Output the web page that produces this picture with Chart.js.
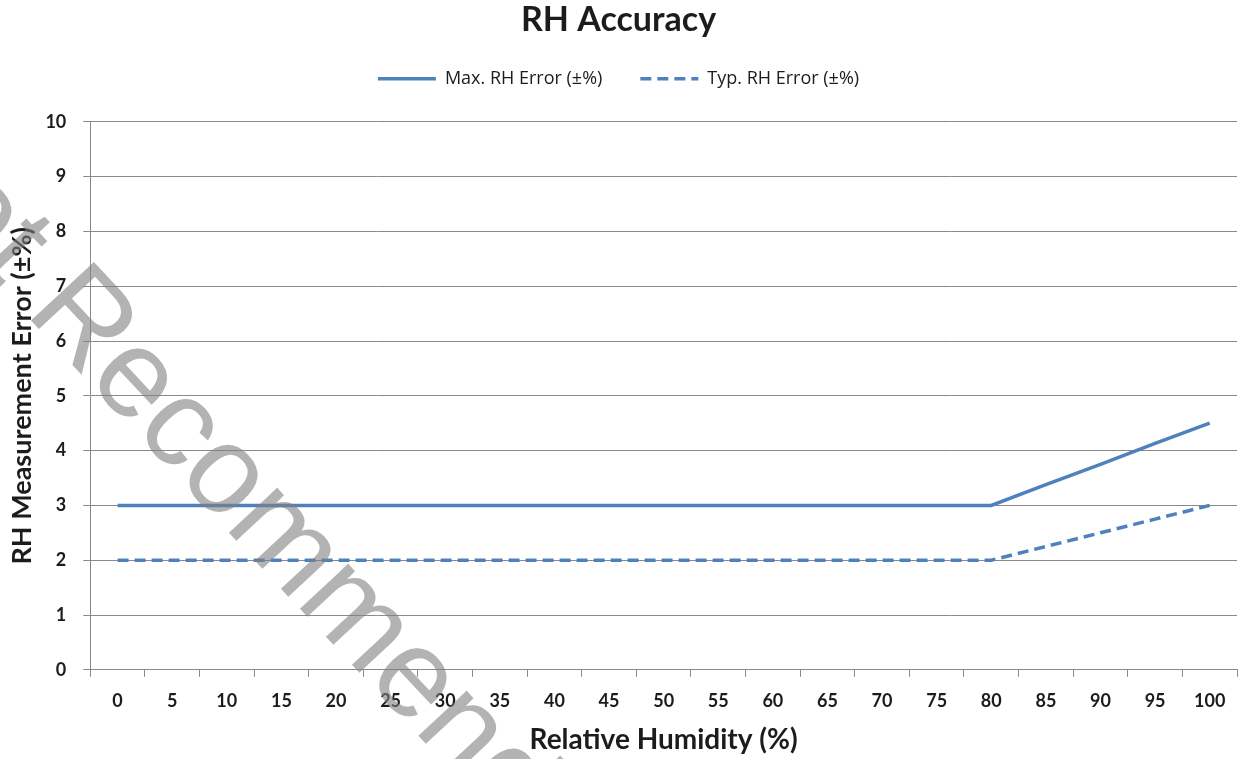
<!DOCTYPE html>
<html>
<head>
<meta charset="utf-8">
<script src="https://cdn.jsdelivr.net/npm/chart.js@4.4.1/dist/chart.umd.min.js"></script>
<style>
  html, body { margin: 0; padding: 0; background: #fff; }
  #wrap { width: 1247px; height: 759px; }
</style>
</head>
<body>
<div id="wrap"><canvas id="rhChart" width="1247" height="759"></canvas></div>
<script>
// Relative humidity categories (x axis tick labels)
const humidity = ['0', '5', '10', '15', '20', '25', '30', '35', '40', '45', '50',
                  '55', '60', '65', '70', '75', '80', '85', '90', '95', '100'];

// Error values
const maxError = [3, 3, 3, 3, 3, 3, 3, 3, 3, 3, 3, 3, 3, 3, 3, 3, 3, 3.38, 3.75, 4.13, 4.5];
const typError = [2, 2, 2, 2, 2, 2, 2, 2, 2, 2, 2, 2, 2, 2, 2, 2, 2, 2.25, 2.5, 2.75, 3];

const yTicks = [0, 1, 2, 3, 4, 5, 6, 7, 8, 9, 10];

const lineBlue = '#4f81bd';
const gridGray = '#8a8a8a';
const textDark = '#1c1c1c';
const FONT = 'Lato, "Open Sans", sans-serif';

// watermark drawn over the plot, like the stamped original
const watermark = {
    id: 'watermark',
    afterDraw(chart) {
        const ctx = chart.ctx;
        ctx.save();
        ctx.font = '125px "Liberation Sans", Arial, sans-serif';
        ctx.fillStyle = 'rgba(128, 128, 128, 0.6)';
        ctx.textBaseline = 'alphabetic';
        const lead = ctx.measureText('Not ').width;
        ctx.translate(24, 313);
        ctx.rotate(47 * Math.PI / 180);
        ctx.fillText('Not Recommended', -lead, 0);
        ctx.restore();
    }
};

// extra room between the legend row and the plot
const legendGap = {
    id: 'legendGap',
    beforeInit(chart) {
        if (!chart.legend) return;
        const fit = chart.legend.fit;
        chart.legend.fit = function () {
            fit.call(this);
            this.height += 24;
        };
    }
};

const ctx = document.getElementById('rhChart').getContext('2d');

new Chart(ctx, {
    type: 'line',
    data: {
        labels: humidity,
        datasets: [{
            label: 'Max. RH Error (±%)',
            data: maxError,
            borderColor: lineBlue,
            backgroundColor: lineBlue,
            borderWidth: 3.5,
            pointRadius: 0,
            tension: 0
        }, {
            label: 'Typ. RH Error (±%)',
            data: typError,
            borderColor: lineBlue,
            backgroundColor: lineBlue,
            borderWidth: 3.5,
            borderDash: [11, 6],
            pointRadius: 0,
            tension: 0
        }]
    },
    options: {
        responsive: false,
        animation: false,
        layout: { padding: { left: 0, right: 10, top: 0, bottom: 2 } },
        plugins: {
            title: {
                display: true,
                text: 'RH Accuracy',
                color: textDark,
                font: { family: FONT, size: 34, weight: 'bold' },
                padding: { top: 0, bottom: -9 }
            },
            legend: {
                display: true,
                position: 'top',
                labels: {
                    usePointStyle: true,
                    pointStyle: 'line',
                    pointStyleWidth: 58,
                    boxWidth: 58,
                    padding: 38,
                    color: textDark,
                    font: { family: '"Open Sans", sans-serif', size: 18 },
                    generateLabels(chart) {
                        const items = Chart.defaults.plugins.legend.labels.generateLabels(chart);
                        items.forEach((item, i) => {
                            item.lineDash = chart.data.datasets[i].borderDash || [];
                            item.lineWidth = 3.5;
                            item.strokeStyle = lineBlue;
                            item.fillStyle = lineBlue;
                            item.pointStyle = 'line';
                        });
                        return items;
                    }
                }
            },
            tooltip: { enabled: false }
        },
        scales: {
            x: {
                offset: true,
                border: { color: gridGray, width: 1 },
                grid: { drawOnChartArea: false, drawTicks: true, tickLength: 7, color: gridGray, offset: true },
                ticks: {
                    color: textDark,
                    padding: 14,
                    maxRotation: 0,
                    autoSkip: false,
                    font: { family: FONT, size: 18, weight: 'bold' }
                },
                title: {
                    display: true,
                    text: 'Relative Humidity (%)',
                    color: textDark,
                    font: { family: FONT, size: 28, weight: 'bold' },
                    padding: { top: -3, bottom: 0 }
                }
            },
            y: {
                min: yTicks[0],
                max: yTicks[yTicks.length - 1],
                border: { color: gridGray, width: 1 },
                grid: { color: gridGray, lineWidth: 1, tickLength: 7 },
                ticks: {
                    stepSize: 1,
                    color: textDark,
                    padding: 17,
                    font: { family: FONT, size: 18, weight: 'bold' }
                },
                title: {
                    display: true,
                    text: 'RH Measurement Error (±%)',
                    color: textDark,
                    font: { family: FONT, size: 27, weight: 'bold' },
                    padding: { top: 6, bottom: -10 }
                }
            }
        }
    },
    plugins: [watermark, legendGap]
});
</script>
</body>
</html>
